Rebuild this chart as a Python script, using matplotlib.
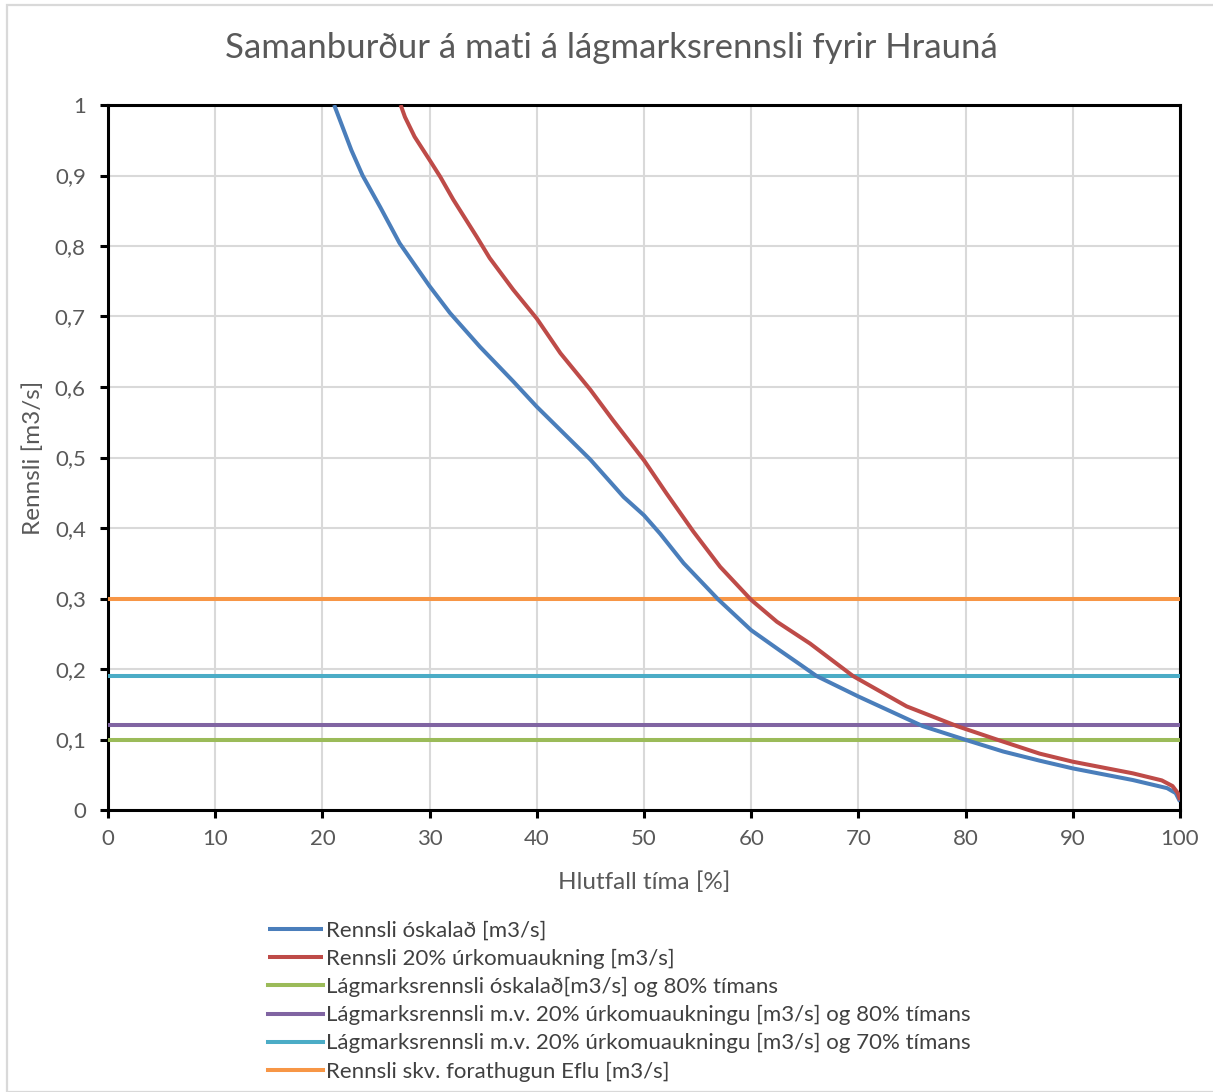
import matplotlib
matplotlib.use("Agg")
import matplotlib.pyplot as plt
from matplotlib.patches import Rectangle
import numpy as np

plt.rcParams['font.family'] = ['Lato', 'DejaVu Sans']

# Blue curve: Rennsli óskalað
blue_x = [21.1, 22.7, 23.75, 25.4, 27.2, 30.0, 31.9, 34.7, 37.8, 40.0, 42.2, 45.0, 48.1, 50.0,
          51.5, 53.7, 56.9, 60.0, 62.7, 64.6, 66.1, 70.0, 76.0, 79.9, 83.5, 86.9, 90.0, 95.6,
          98.8, 99.6, 100.0]
blue_y = [1.0, 0.936, 0.9, 0.855, 0.804, 0.743, 0.705, 0.657, 0.608, 0.572, 0.539, 0.497, 0.444,
          0.418, 0.392, 0.35, 0.299, 0.255, 0.226, 0.206, 0.19, 0.161, 0.119, 0.1, 0.083, 0.07,
          0.059, 0.0425, 0.031, 0.024, 0.012]

# Red curve: Rennsli 20% úrkomuaukning
red_x = [27.3, 27.7, 28.6, 30.0, 31.0, 32.2, 34.4, 35.6, 37.8, 40.0, 42.2, 45.0, 47.1, 50.0,
         52.1, 54.6, 57.1, 60.0, 62.4, 65.5, 69.5, 74.5, 79.2, 82.9, 86.9, 90.0, 95.6, 98.3,
         99.3, 99.8, 100.0]
red_y = [1.0, 0.983, 0.955, 0.922, 0.898, 0.866, 0.813, 0.783, 0.738, 0.697, 0.648, 0.596, 0.553,
         0.496, 0.449, 0.395, 0.345, 0.298, 0.267, 0.236, 0.19, 0.147, 0.119, 0.1, 0.08, 0.0685,
         0.052, 0.042, 0.034, 0.024, 0.014]

hlines = [0.10, 0.12, 0.19, 0.30]
labels = ["Rennsli óskalað [m3/s]",
          "Rennsli 20% úrkomuaukning [m3/s]",
          "Lágmarksrennsli óskalað[m3/s] og 80% tímans",
          "Lágmarksrennsli m.v. 20% úrkomuaukningu [m3/s] og 80% tímans",
          "Lágmarksrennsli m.v. 20% úrkomuaukningu [m3/s] og 70% tímans",
          "Rennsli skv. forathugun Eflu [m3/s]"]
colors = ["#4A7EBB", "#BE4B48", "#9BBB59", "#8064A2", "#4BACC6", "#F79646"]
xticks = np.arange(0, 101, 10)
yticks = np.arange(0, 1.01, 0.1)
yticklabels = ["0", "0,1", "0,2", "0,3", "0,4", "0,5", "0,6", "0,7", "0,8", "0,9", "1"]

fig = plt.figure(figsize=(12.13, 10.92), dpi=100)
ax = fig.add_axes([108/1213, 1-810/1092, (1180-108)/1213, (810-105)/1092])

fig.patches.append(Rectangle((7/1213, 0), 1.2, 1-5/1092, transform=fig.transFigure,
                             fill=False, edgecolor="#D9D9D9", linewidth=1.6, zorder=0))

lw = 2.9
kw = dict(solid_joinstyle="round", solid_capstyle="butt")
ax.plot(blue_x, blue_y, color=colors[0], lw=lw, label=labels[0], zorder=4, **kw)
ax.plot(red_x, red_y, color=colors[1], lw=lw, label=labels[1], zorder=5, **kw)
ax.plot([0, 100], [hlines[0]]*2, color=colors[2], lw=lw, label=labels[2], zorder=3)
ax.plot([0, 100], [hlines[1]]*2, color=colors[3], lw=lw, label=labels[3], zorder=3)
ax.plot([0, 100], [hlines[2]]*2, color=colors[4], lw=lw, label=labels[4], zorder=3)
ax.plot([0, 100], [hlines[3]]*2, color=colors[5], lw=lw, label=labels[5], zorder=3)

ax.set_xlim(0, 100)
ax.set_ylim(0, 1)
ax.set_xticks(xticks)
ax.set_yticks(yticks)
ax.set_yticklabels(yticklabels)
ax.grid(True, color="#D9D9D9", lw=1.5, zorder=0)
ax.set_axisbelow(True)
for s in ax.spines.values():
    s.set_color("black")
    s.set_linewidth(2.2)
ax.tick_params(direction="out", length=6, width=2.2, color="black",
               labelsize=16, labelcolor="#595959")
ax.tick_params(axis="x", pad=8)
ax.tick_params(axis="y", pad=10)

ax.set_xlabel("Hlutfall tíma [%]", fontsize=17.5, color="#595959", labelpad=16)
ax.set_ylabel("Rennsli [m3/s]", fontsize=17.5, color="#595959", labelpad=8)
fig.text(611/1213, 1-48/1092, "Samanburður á mati á lágmarksrennsli fyrir Hrauná",
         ha="center", va="center", fontsize=25, color="#595959")

leg = fig.legend(loc="upper left", bbox_to_anchor=(259/1213, 1-912/1092), frameon=False,
                 fontsize=16, handlelength=2.5, handletextpad=0.12, labelspacing=0.36,
                 labelcolor="#404040", borderaxespad=0)

fig.savefig("out.png", dpi=100, facecolor="white")
